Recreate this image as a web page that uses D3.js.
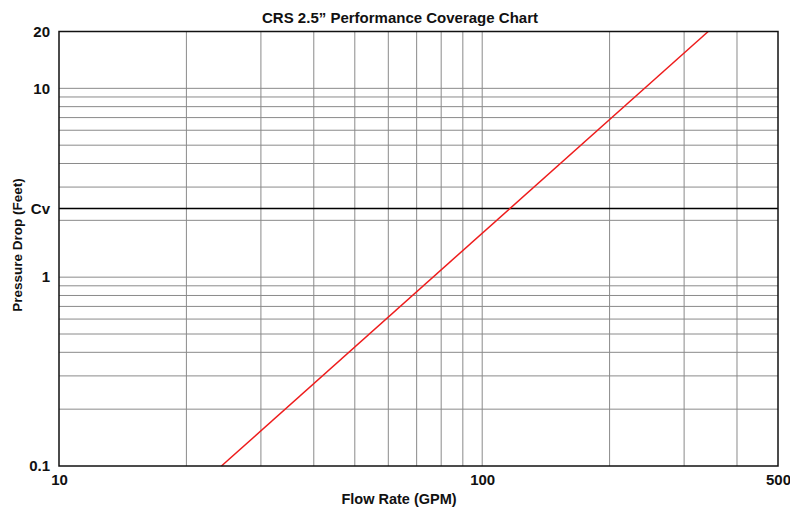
<!DOCTYPE html>
<html>
<head>
<meta charset="utf-8">
<script src="https://cdn.jsdelivr.net/npm/d3@7"></script>
<style>
  body { margin: 0; background: #fff; }
  svg text { font-family: "Liberation Sans", Arial, sans-serif; font-weight: bold; fill: #111; }
</style>
</head>
<body>
<div id="chart"></div>
<script>
// values
var flowTicks = [10, 100, 500];
var flowGrid = [20, 30, 40, 50, 60, 70, 80, 90, 100, 200, 300, 400];
var dropTicks = [0.1, 1, 2.31, 10, 20];
var dropTickLabels = ["0.1", "1", "Cv", "10", "20"];
var dropGrid = [0.2, 0.3, 0.4, 0.5, 0.6, 0.7, 0.8, 0.9, 1, 2, 3, 4, 5, 6, 7, 8, 9, 10];
var cvDrop = 2.31;
var curveFlow = [24.2, 342];
var curveDrop = [0.1, 20];

var width = 790, height = 508;
var margin = {top: 31.5, right: 12, bottom: 42, left: 59};

var svg = d3.select("#chart").append("svg")
    .attr("width", width)
    .attr("height", height);

var x = d3.scaleLog().domain([10, 500]).range([margin.left, width - margin.right]);
var y = d3.scaleLog().domain([0.1, 20]).range([height - margin.bottom, margin.top]);

var g = svg.append("g");

// grid
g.selectAll(".vgrid")
    .data(flowGrid)
  .enter().append("line")
    .attr("class", "vgrid")
    .attr("x1", function(d){return x(d);})
    .attr("x2", function(d){return x(d);})
    .attr("y1", y(0.1))
    .attr("y2", y(20))
    .attr("stroke", "#8a8a8a")
    .attr("stroke-width", 1);

g.selectAll(".hgrid")
    .data(dropGrid)
  .enter().append("line")
    .attr("class", "hgrid")
    .attr("x1", x(10))
    .attr("x2", x(500))
    .attr("y1", function(d){return y(d);})
    .attr("y2", function(d){return y(d);})
    .attr("stroke", "#8a8a8a")
    .attr("stroke-width", 1);

// Cv line
g.append("line")
    .attr("x1", x(10))
    .attr("x2", x(500))
    .attr("y1", y(cvDrop))
    .attr("y2", y(cvDrop))
    .attr("stroke", "#000")
    .attr("stroke-width", 1.5);

// performance curve
var line = d3.line()
    .x(function(d){return x(d[0]);})
    .y(function(d){return y(d[1]);});

g.append("path")
    .datum(d3.zip(curveFlow, curveDrop))
    .attr("d", line)
    .attr("fill", "none")
    .attr("stroke", "#ee1c1c")
    .attr("stroke-width", 1.5);

// frame
g.append("rect")
    .attr("x", x(10))
    .attr("y", y(20))
    .attr("width", x(500) - x(10))
    .attr("height", y(0.1) - y(20))
    .attr("fill", "none")
    .attr("stroke", "#111")
    .attr("stroke-width", 1.5);

// axes
var xAxis = d3.axisBottom(x)
    .tickValues(flowTicks)
    .tickFormat(d3.format("d"))
    .tickSize(0)
    .tickPadding(8);

svg.append("g")
    .attr("transform", "translate(0," + y(0.1) + ")")
    .call(xAxis)
    .call(function(s){ s.select(".domain").remove(); })
    .selectAll("text")
      .style("font-size", "15px")
      .attr("fill", "#111");

var yAxis = d3.axisLeft(y)
    .tickValues(dropTicks)
    .tickFormat(function(d, i){return dropTickLabels[i];})
    .tickSize(0)
    .tickPadding(9);

svg.append("g")
    .attr("transform", "translate(" + x(10) + ",0)")
    .call(yAxis)
    .call(function(s){ s.select(".domain").remove(); })
    .selectAll("text")
      .style("font-size", "15px")
      .attr("fill", "#111");

// titles
svg.append("text")
    .attr("x", 400)
    .attr("y", 23)
    .attr("text-anchor", "middle")
    .style("font-size", "15px")
    .text("CRS 2.5\u201d Performance Coverage Chart");

svg.append("text")
    .attr("x", 399)
    .attr("y", 504)
    .attr("text-anchor", "middle")
    .style("font-size", "14.5px")
    .text("Flow Rate (GPM)");

svg.append("text")
    .attr("transform", "translate(22,245) rotate(-90)")
    .attr("text-anchor", "middle")
    .style("font-size", "13.5px")
    .text("Pressure Drop (Feet)");
</script>
</body>
</html>
